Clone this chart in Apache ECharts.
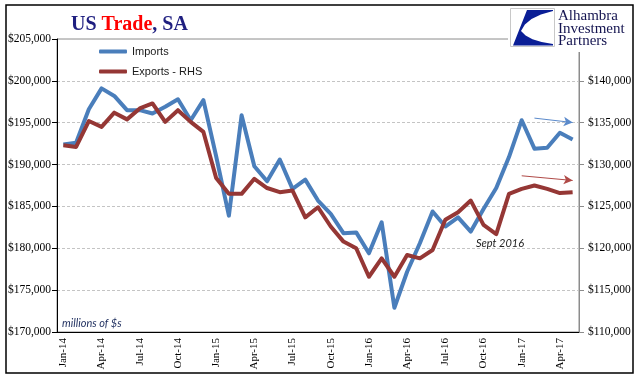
<!DOCTYPE html>
<html><head><meta charset="utf-8">
<script src="https://cdn.jsdelivr.net/npm/echarts@6/dist/echarts.min.js"></script>
<style>html,body{margin:0;padding:0;background:#fff}#c{width:640px;height:380px}</style>
</head><body><div id="c"></div>
<script>
const categories = ['Jan-14','Feb-14','Mar-14','Apr-14','May-14','Jun-14','Jul-14','Aug-14','Sep-14','Oct-14','Nov-14','Dec-14',
'Jan-15','Feb-15','Mar-15','Apr-15','May-15','Jun-15','Jul-15','Aug-15','Sep-15','Oct-15','Nov-15','Dec-15',
'Jan-16','Feb-16','Mar-16','Apr-16','May-16','Jun-16','Jul-16','Aug-16','Sep-16','Oct-16','Nov-16','Dec-16',
'Jan-17','Feb-17','Mar-17','Apr-17','May-17'];
const imports = [192400,192600,196600,199100,198200,196500,196500,196100,196900,197800,195300,197700,
191000,183900,195900,189800,188000,190600,187100,188200,185700,184100,181800,181900,
179400,183100,172900,177200,180600,184400,182600,183700,182000,184700,187200,190900,
195300,191900,192000,193800,193000];
const exportsRHS = [132300,132100,135200,134500,136200,135400,136700,137300,135100,136500,135100,133900,
128400,126500,126500,128300,127200,126700,126900,123700,124900,122600,120800,120000,
116600,118800,116600,119200,118800,119800,123400,124300,125700,122800,121700,126500,
127100,127500,127100,126600,126700];
const leftTicks = {min:170000, max:205000, step:5000};
const rightTicks = {min:110000, max:145000, step:5000};
const importsArrow = [[36.5,195550],[40.3,195020]];
const exportsArrow = [[36.1,128660],[39.85,128100]];

const fmt = v => '$' + v.toLocaleString('en-US');
const serif = '"Liberation Serif","DejaVu Serif",serif';
const chart = echarts.init(document.getElementById('c'), null, {renderer:'canvas'});
chart.setOption({
  animation:false,
  backgroundColor:'#fff',
  title:{
    text:'{n|US }{r|Trade}{n|, SA}', left:66, top:10,
    textStyle:{rich:{
      n:{fontFamily:serif,fontWeight:'bold',fontSize:20,color:'#1F1F80'},
      r:{fontFamily:serif,fontWeight:'bold',fontSize:20,color:'#FF0000'}
    }}
  },
  legend:{
    orient:'vertical', left:94, top:41, itemWidth:28, itemHeight:4, itemGap:9,
    icon:'roundRect',
    textStyle:{fontFamily:'"Liberation Sans",Arial,sans-serif',fontSize:11,color:'#1a1a1a'},
    data:['Imports','Exports - RHS']
  },
  grid:{left:57,right:61,top:39,bottom:48,show:true,borderColor:'#8c8c8c',borderWidth:1,backgroundColor:'transparent'},
  xAxis:{
    type:'category', data:categories, boundaryGap:true,
    axisLine:{lineStyle:{color:'#000',width:1}},
    axisTick:{interval:2,length:5,lineStyle:{color:'#000'}},
    axisLabel:{interval:2,rotate:90,margin:6,fontFamily:serif,fontSize:11,color:'#000'},
    splitLine:{show:false}
  },
  yAxis:[{
    type:'value', min:leftTicks.min, max:leftTicks.max, interval:leftTicks.step,
    axisLine:{show:true,lineStyle:{color:'#000',width:1}},
    axisTick:{show:true,length:5,lineStyle:{color:'#000'}},
    axisLabel:{formatter:fmt,margin:6,fontFamily:serif,fontSize:11.5,color:'#000'},
    splitLine:{show:true,lineStyle:{color:'#c4c4c4',type:[3,2],width:1}}
  },{
    type:'value', position:'right', min:rightTicks.min, max:rightTicks.max, interval:rightTicks.step,
    axisLine:{show:true,lineStyle:{color:'#8c8c8c',width:1}},
    axisTick:{show:true,length:5,lineStyle:{color:'#8c8c8c'}},
    axisLabel:{formatter:v => v>=rightTicks.max ? '' : fmt(v),margin:9,fontFamily:serif,fontSize:11.5,color:'#000'},
    splitLine:{show:false}
  }],
  series:[{
    name:'Imports', type:'line', data:imports, yAxisIndex:0,
    showSymbol:false, symbol:'none', smooth:false,
    lineStyle:{color:'#4A7EBB',width:4,join:'round'}, itemStyle:{color:'#4A7EBB'},
    markLine:{silent:true,symbol:['none','arrow'],symbolSize:[7,9],label:{show:false},
      lineStyle:{color:'#5B8ACB',width:1,type:'solid'},
      data:[[{coord:importsArrow[0]},{coord:importsArrow[1]}]]}
  },{
    name:'Exports - RHS', type:'line', data:exportsRHS, yAxisIndex:1,
    showSymbol:false, symbol:'none', smooth:false,
    lineStyle:{color:'#953735',width:4,join:'round'}, itemStyle:{color:'#953735'},
    markLine:{silent:true,symbol:['none','arrow'],symbolSize:[7,9],label:{show:false},
      lineStyle:{color:'#B04A47',width:1,type:'solid'},
      data:[[{coord:exportsArrow[0]},{coord:exportsArrow[1]}]]}
  }],
  graphic:[
    {type:'rect',z:100,shape:{x:508,y:6,width:124,height:46},style:{fill:'#fff'}},
    {type:'rect',z:101,shape:{x:510.5,y:8.5,width:44,height:38},style:{fill:'#fff',stroke:'#c8c8c8',lineWidth:1}},
    {type:'polygon',z:102,shape:{points:[[527,10],[553,10],[553,11],[540.9,14.5],[531.5,19],[524.9,24.5],[521,31],[525.6,35.6],[532.5,39.3],[541.6,42.1],[553,44],[553,45.5],[513,45.5]]},style:{fill:'#0A1E96'}},
    {type:'text',z:102,left:558,top:9,style:{text:'Alhambra\nInvestment\nPartners',fontFamily:serif,fontSize:15,lineHeight:12.5,fill:'#141450'}},
    {type:'text',z:50,left:62,top:318,style:{text:'millions of $s',fontFamily:'Lato,"Open Sans",sans-serif',fontStyle:'italic',fontSize:11,fill:'#1F2F5F'}},
    {type:'text',z:50,left:476,top:238,style:{text:'Sept 2016',fontFamily:'Lato,"Open Sans",sans-serif',fontStyle:'italic',fontSize:11,fill:'#222'}},
    {type:'rect',z:120,shape:{x:6,y:5,width:627,height:368},style:{fill:'none',stroke:'#000',lineWidth:1.5}}
  ]
});
</script></body></html>
